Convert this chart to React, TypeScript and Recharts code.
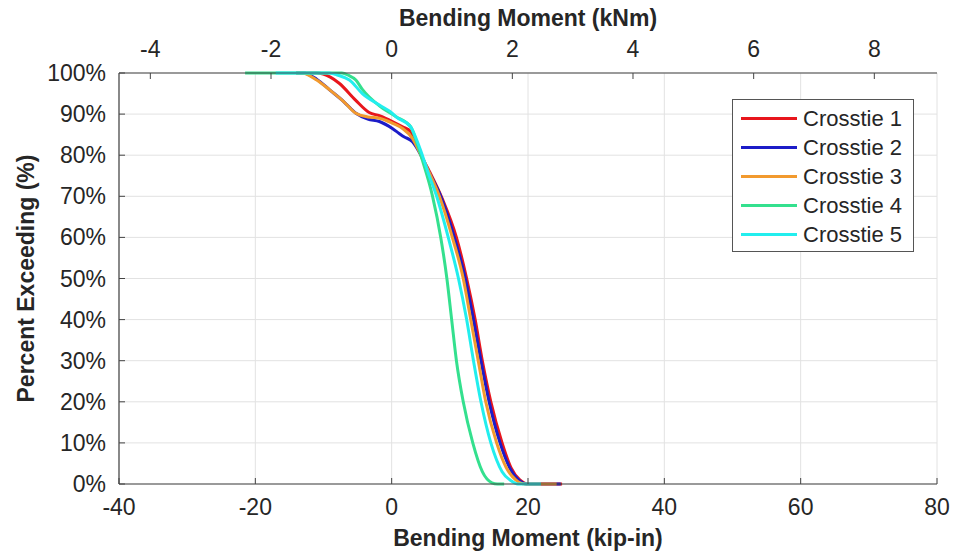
import React from 'react';
import { LineChart, Line, XAxis, YAxis, CartesianGrid } from 'recharts';

const KIP_IN_PER_KNM = 8.8507;

const bottomTicks = [-40, -20, 0, 20, 40, 60, 80];
const topTicks = [-4, -2, 0, 2, 4, 6, 8];
const yTicks = [0, 10, 20, 30, 40, 50, 60, 70, 80, 90, 100];

const seriesNames = ['Crosstie 1', 'Crosstie 2', 'Crosstie 3', 'Crosstie 4', 'Crosstie 5'];
const seriesColors = ['#e8161c', '#1c1cc8', '#f29a2e', '#34e08e', '#22eeee'];

// [moment kip-in, percent exceeding]
const crosstie1: [number, number][] = [
  [-14, 100], [-11, 100], [-9, 99], [-7.7, 97.5], [-5.3, 93.4], [-3.3, 90.4], [-1.8, 89.6], [0.1, 88.2],
  [1.6, 86.9], [2.8, 85.7], [3.5, 83.5], [4.3, 80], [5.5, 76.2], [7.4, 69.5], [9.5, 60], [11.0, 50],
  [12.25, 40], [13.3, 30], [14.55, 20], [16.2, 10], [17.5, 4], [18.8, 1], [20, 0], [25, 0],
];
const crosstie2: [number, number][] = [
  [-14, 100], [-13, 100], [-11, 98.5], [-9.1, 95.9], [-7, 93], [-5.25, 90.2], [-3.5, 88.8], [-1.8, 88.2],
  [0.1, 86.5], [1.1, 85.3], [1.8, 84.5], [3.05, 83.3], [4.3, 80], [5.5, 75.8], [7.2, 70], [9.2, 60],
  [10.8, 50], [12.0, 40], [13.1, 30], [14.3, 20], [15.9, 10], [17.3, 4], [18.6, 1], [19.8, 0], [24.8, 0],
];
const crosstie3: [number, number][] = [
  [-14, 100], [-13.2, 100], [-11, 98.3], [-9.1, 95.9], [-7, 93], [-5.25, 90.2], [-3.5, 89.3], [-1.8, 89],
  [0.1, 87.8], [1.6, 86.5], [3.05, 84.1], [4.3, 80], [5.5, 75.8], [7.0, 70], [8.9, 60], [10.5, 50],
  [11.6, 40], [12.7, 30], [13.8, 20], [15.4, 10], [16.8, 4], [18.2, 1], [19.5, 0], [24.2, 0],
];
const crosstie4: [number, number][] = [
  [-21.5, 100], [-7.3, 100], [-6.3, 99.4], [-5.25, 98.3], [-4.3, 96], [-1.8, 92], [0.6, 89.4], [2.8, 86.9],
  [3.6, 83.5], [4.5, 78.8], [6.0, 70], [7.2, 60], [8.1, 50], [8.8, 40], [9.5, 30], [10.5, 20],
  [11.9, 10], [13.3, 3], [14.7, 0.3], [15.5, 0], [16.5, 0],
];
const crosstie5: [number, number][] = [
  [-17, 100], [-9.2, 100], [-8, 99.5], [-6.2, 98.3], [-4.3, 95], [-1.8, 92.2], [0.1, 90.2], [0.6, 89.4],
  [2.8, 86.9], [3.6, 84], [4.5, 80], [5.3, 76], [6.6, 70], [8.3, 60], [9.8, 50], [11.0, 40],
  [12.0, 30], [13.1, 20], [14.55, 10], [16.2, 3], [17.5, 0.8], [18.5, 0], [21.9, 0],
];

const allSeries = [crosstie1, crosstie2, crosstie3, crosstie4, crosstie5];

const W = 959;
const H = 554;
const PLOT_LEFT = 119;
const PLOT_RIGHT = 937;
const PLOT_TOP = 73;
const PLOT_BOTTOM = 484;
const TICK_LEN = 6;
const FONT = '"Liberation Sans", Arial, sans-serif';
const TEXT_COLOR = '#262626';
const AXIS_COLOR = '#444';
const TICK_FONT = 23;
const TITLE_FONT = 23;

const BottomTick = (props: any) => {
  const { x, payload } = props;
  return (
    <g>
      <line x1={x} x2={x} y1={PLOT_BOTTOM} y2={PLOT_BOTTOM - TICK_LEN} stroke={AXIS_COLOR} strokeWidth={1} />
      <text x={x} y={PLOT_BOTTOM + 31} textAnchor="middle" fontFamily={FONT} fontSize={TICK_FONT} fill={TEXT_COLOR}>
        {payload.value}
      </text>
    </g>
  );
};

const TopTick = (props: any) => {
  const { x, payload } = props;
  return (
    <g>
      <line x1={x} x2={x} y1={PLOT_TOP} y2={PLOT_TOP + TICK_LEN} stroke={AXIS_COLOR} strokeWidth={1} />
      <text x={x} y={PLOT_TOP - 16} textAnchor="middle" fontFamily={FONT} fontSize={TICK_FONT} fill={TEXT_COLOR}>
        {payload.value}
      </text>
    </g>
  );
};

const LeftTick = (props: any) => {
  const { y, payload } = props;
  return (
    <g>
      <line x1={PLOT_LEFT} x2={PLOT_LEFT + TICK_LEN} y1={y} y2={y} stroke={AXIS_COLOR} strokeWidth={1} />
      <text x={PLOT_LEFT - 13} y={y + 8} textAnchor="end" fontFamily={FONT} fontSize={TICK_FONT} fill={TEXT_COLOR}>
        {payload.value + '%'}
      </text>
    </g>
  );
};

const BottomTitle = () => (
  <text x={(PLOT_LEFT + PLOT_RIGHT) / 2} y={546} textAnchor="middle" fontFamily={FONT} fontSize={TITLE_FONT} fontWeight="bold" fill={TEXT_COLOR}>
    Bending Moment (kip-in)
  </text>
);

const TopTitle = () => (
  <text x={(PLOT_LEFT + PLOT_RIGHT) / 2} y={26} textAnchor="middle" fontFamily={FONT} fontSize={TITLE_FONT} fontWeight="bold" fill={TEXT_COLOR}>
    Bending Moment (kNm)
  </text>
);

const LeftTitle = () => {
  const cx = 26;
  const cy = (PLOT_TOP + PLOT_BOTTOM) / 2;
  return (
    <text x={cx} y={cy} transform={`rotate(-90 ${cx} ${cy})`} textAnchor="middle" dominantBaseline="central" fontFamily={FONT} fontSize={TITLE_FONT} fontWeight="bold" fill={TEXT_COLOR}>
      Percent Exceeding (%)
    </text>
  );
};

const LegendBox = () => (
  <div
    style={{
      position: 'absolute',
      left: 732,
      top: 99,
      width: 182,
      height: 153,
      border: '1px solid #555',
      background: '#fff',
      boxSizing: 'border-box',
      paddingTop: 4,
    }}
  >
    {seriesNames.map((name, i) => (
      <div key={name} style={{ display: 'flex', alignItems: 'center', height: 29, marginLeft: 8 }}>
        <div style={{ width: 56, height: 3, background: seriesColors[i] }} />
        <span style={{ marginLeft: 6, fontFamily: FONT, fontSize: 22, color: TEXT_COLOR, lineHeight: '29px' }}>{name}</span>
      </div>
    ))}
  </div>
);

export default function App() {
  return (
    <div style={{ position: 'absolute', left: 0, top: 0, width: W, height: H, background: '#fff' }}>
      <LineChart width={W} height={H} margin={{ top: 0, right: W - PLOT_RIGHT, bottom: 0, left: 0 }}>
        <CartesianGrid xAxisId="bottom" yAxisId="left" stroke="#e2e2e2" strokeWidth={1} />
        <XAxis
          xAxisId="bottom"
          dataKey="x"
          type="number"
          orientation="bottom"
          domain={[-40, 80]}
          ticks={bottomTicks}
          allowDataOverflow
          height={H - PLOT_BOTTOM}
          tickLine={false}
          tickSize={0}
          tickMargin={0}
          tick={<BottomTick />}
          axisLine={{ stroke: AXIS_COLOR, strokeWidth: 1.2 }}
          label={{ content: () => <BottomTitle /> }}
        />
        <XAxis
          xAxisId="top"
          dataKey="x"
          type="number"
          orientation="top"
          domain={[-40 / KIP_IN_PER_KNM, 80 / KIP_IN_PER_KNM]}
          ticks={topTicks}
          allowDataOverflow
          height={PLOT_TOP}
          tickLine={false}
          tickSize={0}
          tickMargin={0}
          tick={<TopTick />}
          axisLine={{ stroke: AXIS_COLOR, strokeWidth: 1.2 }}
          label={{ content: () => <TopTitle /> }}
        />
        <YAxis
          yAxisId="left"
          type="number"
          domain={[0, 100]}
          ticks={yTicks}
          width={PLOT_LEFT}
          tickLine={false}
          tickSize={0}
          tickMargin={0}
          tick={<LeftTick />}
          axisLine={{ stroke: AXIS_COLOR, strokeWidth: 1.2 }}
          label={{ content: () => <LeftTitle /> }}
        />
        <YAxis
          yAxisId="right"
          orientation="right"
          type="number"
          domain={[0, 100]}
          width={0}
          tick={false}
          tickLine={false}
          axisLine={{ stroke: AXIS_COLOR, strokeWidth: 1.2 }}
        />
        {allSeries.map((s, i) => (
          <Line
            key={seriesNames[i]}
            xAxisId="bottom"
            yAxisId="left"
            name={seriesNames[i]}
            data={s.map(([x, y]) => ({ x, y }))}
            dataKey="y"
            type="monotone"
            stroke={seriesColors[i]}
            strokeWidth={3}
            dot={false}
            activeDot={false}
            isAnimationActive={false}
          />
        ))}
      </LineChart>
      <LegendBox />
    </div>
  );
}
